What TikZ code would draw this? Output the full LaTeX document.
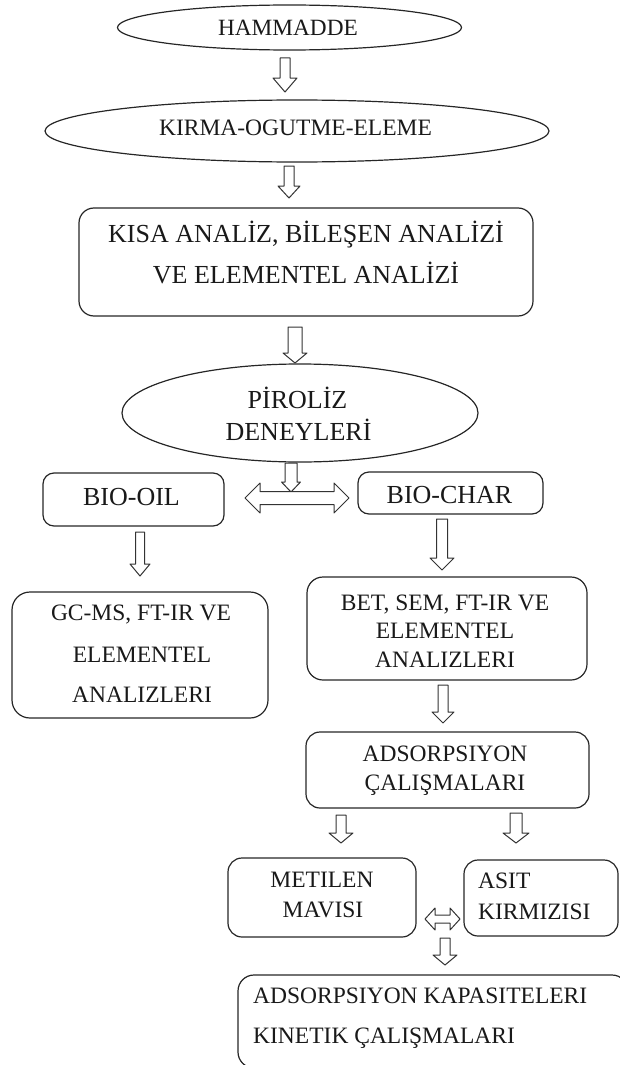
\documentclass[tikz,border=0pt]{standalone}
\usepackage{fontspec}
\setmainfont{Liberation Serif}
\usetikzlibrary{shapes.geometric}
% block arrow pointing down: x, ytop, ytip, shaft half width, head half width, head length
\newcommand\blockdown[6]{%
  \draw[barrow] ({#1-#4},#2) -- ({#1+#4},#2) -- ({#1+#4},{#3-#6}) -- ({#1+#5},{#3-#6})
    -- (#1,#3) -- ({#1-#5},{#3-#6}) -- ({#1-#4},{#3-#6}) -- cycle;}
% horizontal double block arrow: xleft, xright, y, shaft half, head half, head length
\newcommand\blockboth[6]{%
  \draw[barrow] (#1,#3) -- ({#1+#6},{#3-#5}) -- ({#1+#6},{#3-#4}) -- ({#2-#6},{#3-#4})
    -- ({#2-#6},{#3-#5}) -- (#2,#3) -- ({#2-#6},{#3+#5}) -- ({#2-#6},{#3+#4})
    -- ({#1+#6},{#3+#4}) -- ({#1+#6},{#3+#5}) -- cycle;}
\begin{document}
\begin{tikzpicture}[x=1pt,y=-1pt,line join=round,
  box/.style={draw=black!85,line width=1.2pt,rounded corners=13pt,inner sep=0pt},
  oval/.style={draw=black!85,line width=1.2pt,ellipse,inner sep=0pt},
  lbl/.style={anchor=base,inner sep=0pt,text=black!90},
  lblw/.style={anchor=base west,inner sep=0pt,text=black!90},
  fs/.style={font=\fontsize{23.5}{28}\selectfont},
  fb/.style={font=\fontsize{26}{30}\selectfont},
  barrow/.style={draw=black!80,line width=1pt,fill=white}]
\useasboundingbox (0,0) rectangle (620,1065);

% shapes
\node[oval,minimum width=344pt,minimum height=45pt] (hammadde) at (289.5,27.5) {};
\node[oval,minimum width=504pt,minimum height=62pt] (kirma) at (297,131) {};
\node[box,rounded corners=15pt,minimum width=454pt,minimum height=108pt] (kisa) at (306,262) {};
\node[oval,minimum width=356pt,minimum height=98pt] (piroliz) at (300,413) {};
\node[box,rounded corners=11pt,minimum width=181pt,minimum height=53pt] (biooil) at (133.5,499.5) {};
\node[box,rounded corners=11pt,minimum width=185pt,minimum height=42pt] (biochar) at (450.5,493) {};
\node[box,rounded corners=18pt,minimum width=256pt,minimum height=126pt] (gcms) at (140,655) {};
\node[box,rounded corners=16pt,minimum width=280pt,minimum height=103pt] (bet) at (447,628.5) {};
\node[box,rounded corners=14pt,minimum width=283pt,minimum height=76pt] (adsorp) at (447.5,770) {};
\node[box,rounded corners=14pt,minimum width=188pt,minimum height=79pt] (metilen) at (322,897.5) {};
\node[box,rounded corners=14pt,minimum width=154pt,minimum height=76pt] (asit) at (541,898) {};
\node[box,rounded corners=16pt,minimum width=390pt,minimum height=93pt] (kapasite) at (433,1021.5) {};

% texts
\node[lbl,font=\fontsize{23.3}{28}\selectfont] (t-ham) at (288,36) {HAMMADDE};
\node[lbl,fs] (t-kir) at (295.5,135) {KIRMA-OGUTME-ELEME};
\node[lbl,fb] (t-kisa1) at (306,242) {KISA ANALİZ, BİLEŞEN ANALİZİ};
\node[lbl,fb] (t-kisa2) at (306,283) {VE ELEMENTEL ANALİZİ};
\node[lbl,fb] (t-pir1) at (297.5,408) {PİROLİZ};
\node[lbl,fb] (t-pir2) at (298.5,440) {DENEYLERİ};
\node[lbl,fb] (t-oil) at (131.5,505) {BIO-OIL};
\node[lbl,fb] (t-char) at (449.5,503) {BIO-CHAR};
\node[lbl,fs] (t-gc1) at (141,620) {GC-MS, FT-IR VE};
\node[lbl,fs] (t-gc2) at (142,662) {ELEMENTEL};
\node[lbl,fs] (t-gc3) at (142,702) {ANALIZLERI};
\node[lbl,fs] (t-bet1) at (445,610) {BET, SEM, FT-IR VE};
\node[lbl,fs] (t-bet2) at (445,638) {ELEMENTEL};
\node[lbl,fs] (t-bet3) at (445,667) {ANALIZLERI};
\node[lbl,fs] (t-ads1) at (445,761) {ADSORPSIYON};
\node[lbl,fs] (t-ads2) at (445,790) {ÇALIŞMALARI};
\node[lbl,fs] (t-met1) at (322,887) {METILEN};
\node[lbl,fs] (t-met2) at (323,917) {MAVISI};
\node[lblw,fs] (t-asit1) at (478,888) {ASIT};
\node[lblw,fs] (t-asit2) at (478,919) {KIRMIZISI};
\node[lblw,fs] (t-kap1) at (253,1003) {ADSORPSIYON KAPASITELERI};
\node[lblw,fs] (t-kap2) at (253,1043) {KINETIK ÇALIŞMALARI};

% block arrows
\blockdown{285}{58}{92}{5}{12}{14}
\blockdown{289}{166}{198}{5}{11}{12}
\blockdown{295}{327}{363}{7}{12}{10}
\blockdown{291}{463}{492}{6}{9.5}{10}
\blockboth{245}{349}{498}{6.5}{15}{15}
\blockdown{140}{532}{576}{4.5}{10}{12}
\blockdown{442}{519}{570}{5.5}{12}{12}
\blockdown{443}{685}{723}{5}{11}{11}
\blockdown{341}{815}{843}{5}{12}{10}
\blockdown{516}{813}{843}{6}{13}{10}
\blockboth{425}{460}{919}{4}{11}{10}
\blockdown{445}{938}{965}{5}{12}{10}
\end{tikzpicture}
\end{document}
